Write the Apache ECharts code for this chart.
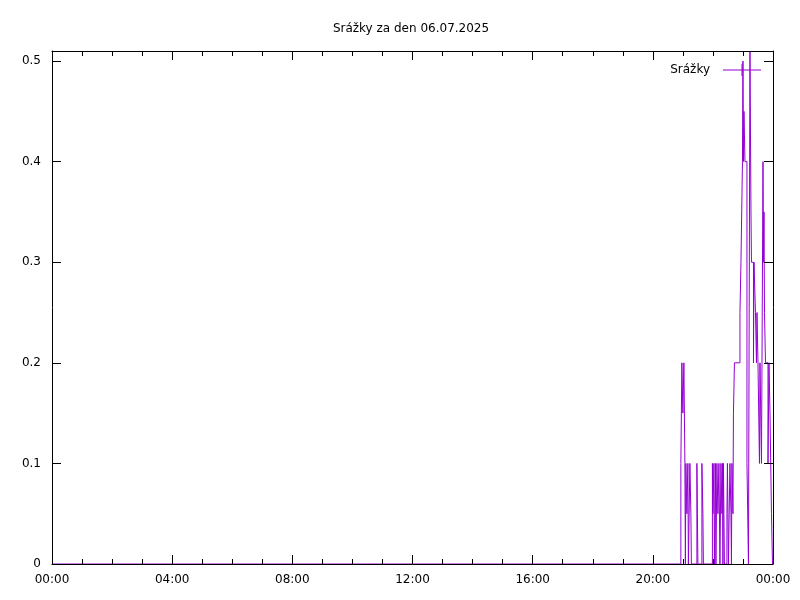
<!DOCTYPE html>
<html>
<head>
<meta charset="utf-8">
<script src="https://cdn.jsdelivr.net/npm/echarts@6/dist/echarts.min.js"></script>
<style>html,body{margin:0;padding:0;background:#fff}#c{width:800px;height:600px}</style>
</head>
<body>
<div id="c"></div>
<script>
const titleText = "Srážky za den 06.07.2025";
const seriesName = "Srážky";
const xTickLabels = ["00:00","04:00","08:00","12:00","16:00","20:00","00:00"];
const yTickLabels = ["0","0.1","0.2","0.3","0.4","0.5"];
const times = ["00:00","20:56","20:58","21:00","21:02","21:04","21:05","21:06","21:08","21:10","21:11","21:14","21:16","21:17","21:28","21:29","21:30","21:38","21:40","21:41",
"21:59","22:00","22:02","22:03","22:05","22:06","22:08","22:10","22:12","22:14","22:16","22:18","22:19","22:20","22:21","22:22","22:23","22:28","22:29","22:31","22:34","22:36","22:37","22:38","22:40","22:41","22:43",
"22:54","22:56","22:59","23:00","23:01","23:02","23:04","23:08","23:11","23:14","23:16","23:17","23:21","23:22","23:25","23:27","23:28","23:30","23:33","23:34","23:37","23:38","23:40","23:41","23:42","23:43","23:45","23:50","23:52","23:54","23:57","23:59"];
const values = [0,0.1,0.2,0.15,0.2,0.1,0,0.1,0.05,0.1,0,0.1,0.05,0,0.1,0.05,0,0.1,0.05,0,
0.1,0.05,0.1,0,0.1,0,0.1,0.05,0.1,0,0.1,0.05,0.1,0,0.1,0.05,0,0.05,0.1,0,0.1,0.05,0,0.1,0.05,0.15,0.2,
0.25,0.3,0.4,0.5,0.4,0.45,0.4,0.1,0,0.51,0.35,0.3,0.2,0.3,0.25,0.2,0.25,0.2,0.1,0.2,0.1,0.2,0.4,0.3,0.35,0.25,0.2,0.1,0.2,0.15,0.05,0];

function toMin(s){const p=s.split(":");return (+p[0])*60+(+p[1]);}
// step table: the value holds until the next time, then jumps
const data = [];
times.forEach((t,i)=>{
  const m = toMin(t);
  if(i>0) data.push([m, values[i-1]]);
  data.push([m, values[i]]);
});
const lineColor = "#9400D3";
const font = "DejaVu Sans";

const chart = echarts.init(document.getElementById('c'), null, {renderer:'canvas'});
const xFmt = v => xTickLabels[Math.round(v/240)] || "";
const yFmt = v => { const k = Math.round(v*10); return Math.abs(v*10-k)<1e-6 ? yTickLabels[k] : ""; };
const baseX = {
  type:'value', min:0, max:1440, interval:240,
  axisLine:{show:true, onZero:false, lineStyle:{color:'#000', width:1}},
  axisTick:{show:true, inside:true, length:9, lineStyle:{color:'#000'}},
  minorTick:{show:true, splitNumber:4, length:5, lineStyle:{color:'#000'}},
  splitLine:{show:false}, z:5
};
const baseY = {
  type:'value', min:0, max:0.51, interval:0.1,
  axisLine:{show:true, onZero:false, lineStyle:{color:'#000', width:1}},
  axisTick:{show:true, inside:true, length:9, lineStyle:{color:'#000'}},
  splitLine:{show:false}, z:5
};
chart.setOption({
  animation:false,
  backgroundColor:'#fff',
  title:{text:titleText, left:406, top:18, textAlign:'center',
    textStyle:{fontFamily:font, fontSize:12, fontWeight:'normal', color:'#000'}},
  legend:{
    data:[{name:seriesName, icon:'path://M0 5.5H38V6.5H0Z M18.5 0H19.5V12H18.5Z'}],
    right:34, top:59, itemWidth:38, itemHeight:12, align:'right',
    textStyle:{fontFamily:font, fontSize:12, color:'#000', padding:[0,8,0,0]}
  },
  grid:{left:52, right:27, top:51, bottom:36, show:false},
  xAxis:[
    Object.assign({}, baseX, {position:'bottom',
      axisLabel:{show:true, margin:10, formatter:xFmt, fontFamily:font, fontSize:12, color:'#000'}}),
    Object.assign({}, baseX, {position:'top', axisLabel:{show:false}})
  ],
  yAxis:[
    Object.assign({}, baseY, {position:'left',
      axisLabel:{show:true, margin:11, formatter:yFmt, showMaxLabel:false, fontFamily:font, fontSize:12, color:'#000'}}),
    Object.assign({}, baseY, {position:'right', axisLabel:{show:false}})
  ],
  series:[{
    name:seriesName, type:'line', data:data,
    showSymbol:false, symbol:'none',
    lineStyle:{color:lineColor, width:1}, itemStyle:{color:lineColor},
    z:2
  }]
});
</script>
</body>
</html>
